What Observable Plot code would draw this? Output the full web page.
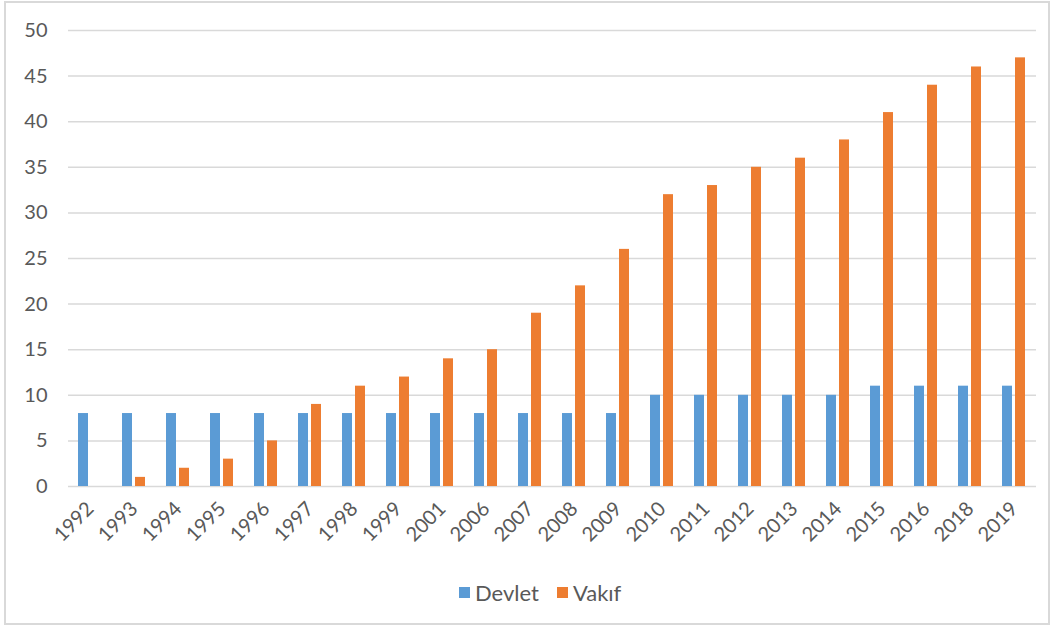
<!DOCTYPE html>
<html>
<head>
<meta charset="utf-8">
<script src="https://cdn.jsdelivr.net/npm/d3@7"></script>
<script src="https://cdn.jsdelivr.net/npm/@observablehq/plot@0.6"></script>
<style>
  html, body { margin: 0; padding: 0; background: #fff; }
  body { width: 1057px; height: 630px; position: relative; overflow: hidden; font-family: Lato, "Open Sans", sans-serif; }
  #frame { position: absolute; left: 4px; top: 1px; width: 1046px; height: 624px; border: 2px solid #d9d9d9; box-sizing: border-box; }
  #chart { position: absolute; left: 0; top: 0; }
  #legend { position: absolute; left: 459px; top: 579px; display: flex; align-items: center; font-size: 22px; color: #595959; }
  #legend .sw { width: 11px; height: 11px; display: inline-block; margin-right: 5px; }
  #legend .item { display: flex; align-items: center; margin-right: 18px; }
</style>
</head>
<body>
<div id="frame"></div>
<div id="chart"></div>
<div id="legend"></div>
<script>
const years = ["1992","1993","1994","1995","1996","1997","1998","1999","2001","2006","2007","2008","2009","2010","2011","2012","2013","2014","2015","2016","2018","2019"];
const devlet = [8,8,8,8,8,8,8,8,8,8,8,8,8,10,10,10,10,10,11,11,11,11];
const vakif  = [0,1,2,3,5,9,11,12,14,15,19,22,26,32,33,35,36,38,41,44,46,47];
const seriesNames = ["Devlet","Vakıf"];
const seriesColors = ["#5B9BD5","#ED7D31"];
const yTicks = [0,5,10,15,20,25,30,35,40,45,50];

const data = years.flatMap((y, i) => [
  {year: y, series: seriesNames[0], value: devlet[i]},
  {year: y, series: seriesNames[1], value: vakif[i]}
]);

const chart = Plot.plot({
  width: 1057,
  height: 560,
  marginLeft: 68,
  marginRight: 21,
  marginTop: 30,
  marginBottom: 74,
  style: {fontFamily: "Lato, 'Open Sans', sans-serif", fontSize: "20px", color: "#595959", background: "transparent"},
  fx: {domain: years, padding: 0, label: null, tickRotate: -45, tickSize: 0, tickPadding: 19},
  x: {domain: seriesNames, paddingInner: 0.23, paddingOuter: 0.73, axis: null},
  y: {domain: [0, 50], ticks: yTicks, label: null, tickSize: 0, tickPadding: 21},
  color: {domain: seriesNames, range: seriesColors},
  marks: [
    Plot.ruleY(yTicks, {stroke: "#d9d9d9", strokeWidth: 1.5}),
    Plot.barY(data, {fx: "year", x: "series", y: "value", fill: "series"})
  ]
});
document.getElementById("chart").appendChild(chart);

const legend = document.getElementById("legend");
seriesNames.forEach((n, i) => {
  const item = document.createElement("span");
  item.className = "item";
  const sw = document.createElement("span");
  sw.className = "sw";
  sw.style.background = seriesColors[i];
  item.appendChild(sw);
  item.appendChild(document.createTextNode(n));
  legend.appendChild(item);
});
</script>
</body>
</html>
